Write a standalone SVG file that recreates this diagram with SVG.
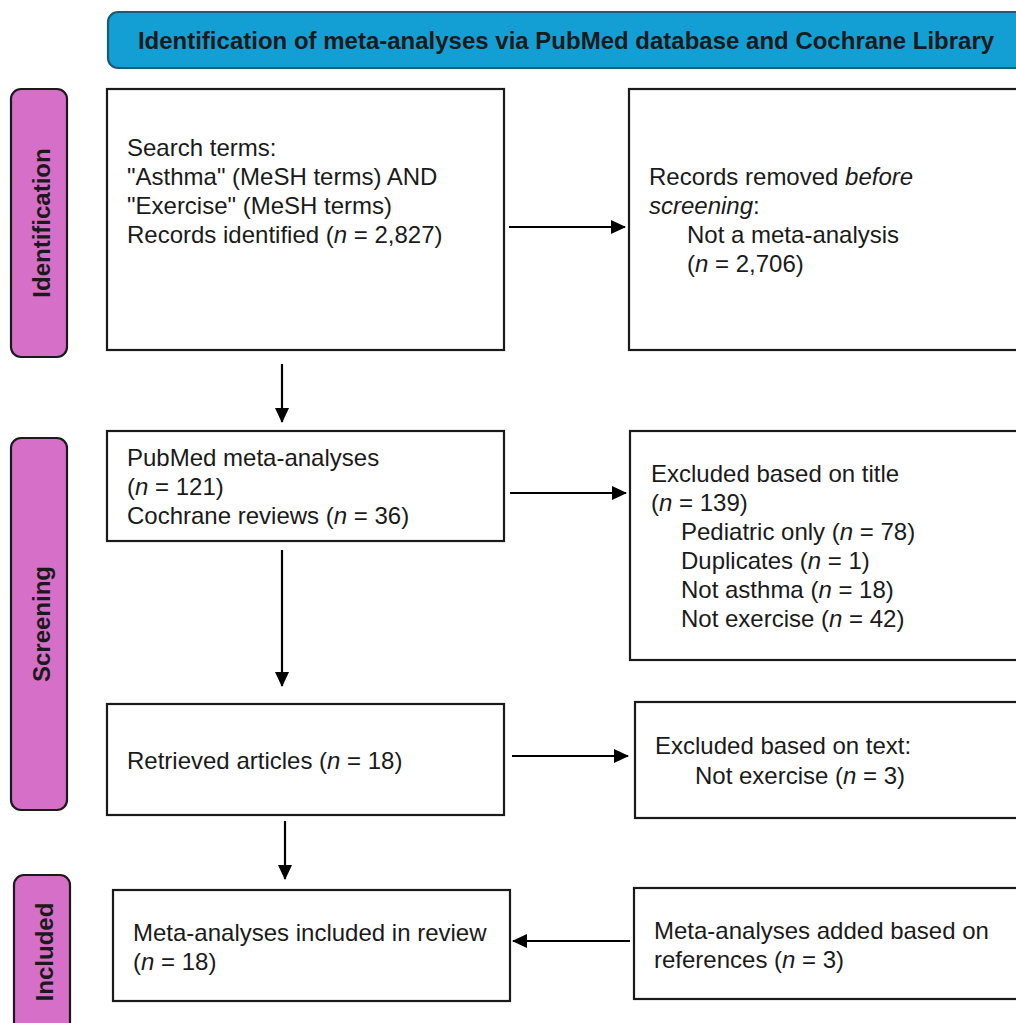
<svg xmlns="http://www.w3.org/2000/svg" width="1016" height="1023" viewBox="0 0 1016 1023">
<style>
.box{fill:#fff;stroke:#1a1a1a;stroke-width:2.2}
.bar{fill:#d66fc8;stroke:#1a1a1a;stroke-width:2.2}
.t{font-family:"Liberation Sans",Arial,sans-serif;font-size:24px;fill:#1a1a1a}
.b{font-family:"Liberation Sans",Arial,sans-serif;font-size:24px;font-weight:bold;fill:#1a1a1a}
.c{stroke:#000;stroke-width:2.2;fill:none;marker-end:url(#ah)}
</style>
<defs>
<marker id="ah" viewBox="0 0 15 14" refX="14" refY="7" markerWidth="15" markerHeight="14" markerUnits="userSpaceOnUse" orient="auto">
<path d="M0,0 L15,7 L0,14 Z" fill="#000"/>
</marker>
</defs>
<rect width="1016" height="1023" fill="#fff"/>
<g id="header">
<rect x="108" y="12" width="930" height="56" rx="10" fill="#139fd3" stroke="#1b5b78" stroke-width="2.2"/>
<text class="b" x="566" y="49" text-anchor="middle">Identification of meta-analyses via PubMed database and Cochrane Library</text>
</g>
<g id="bar-identification">
<rect class="bar" x="11" y="89" width="56" height="268" rx="10"/>
<text class="b" transform="translate(50,223) rotate(-90)" text-anchor="middle">Identification</text>
</g>
<g id="bar-screening">
<rect class="bar" x="11" y="438" width="56" height="372" rx="10"/>
<text class="b" transform="translate(50,624) rotate(-90)" text-anchor="middle">Screening</text>
</g>
<g id="bar-included">
<rect class="bar" x="14" y="875" width="56" height="170" rx="10"/>
<text class="b" transform="translate(53,952) rotate(-90)" text-anchor="middle">Included</text>
</g>
<g id="n1">
<rect class="box" x="107" y="89" width="397" height="261"/>
<text class="t" x="127" y="156">Search terms:</text>
<text class="t" x="127" y="185">"Asthma" (MeSH terms) AND</text>
<text class="t" x="127" y="214">"Exercise" (MeSH terms)</text>
<text class="t" x="127" y="243">Records identified (<tspan font-style="italic">n</tspan> = 2,827)</text>
</g>
<g id="n2">
<rect class="box" x="629" y="89" width="410" height="261"/>
<text class="t" x="649" y="185">Records removed <tspan font-style="italic">before</tspan></text>
<text class="t" x="649" y="214"><tspan font-style="italic">screening</tspan>:</text>
<text class="t" x="687" y="243">Not a meta-analysis</text>
<text class="t" x="687" y="272">(<tspan font-style="italic">n</tspan> = 2,706)</text>
</g>
<g id="n3">
<rect class="box" x="107" y="431" width="397" height="110"/>
<text class="t" x="127" y="466">PubMed meta-analyses</text>
<text class="t" x="127" y="495">(<tspan font-style="italic">n</tspan> = 121)</text>
<text class="t" x="127" y="524">Cochrane reviews (<tspan font-style="italic">n</tspan> = 36)</text>
</g>
<g id="n4">
<rect class="box" x="630" y="431" width="410" height="229"/>
<text class="t" x="651" y="482">Excluded based on title</text>
<text class="t" x="651" y="511">(<tspan font-style="italic">n</tspan> = 139)</text>
<text class="t" x="681" y="540">Pediatric only (<tspan font-style="italic">n</tspan> = 78)</text>
<text class="t" x="681" y="569">Duplicates (<tspan font-style="italic">n</tspan> = 1)</text>
<text class="t" x="681" y="598">Not asthma (<tspan font-style="italic">n</tspan> = 18)</text>
<text class="t" x="681" y="627">Not exercise (<tspan font-style="italic">n</tspan> = 42)</text>
</g>
<g id="n5">
<rect class="box" x="107" y="704" width="397" height="111"/>
<text class="t" x="127" y="769">Retrieved articles (<tspan font-style="italic">n</tspan> = 18)</text>
</g>
<g id="n6">
<rect class="box" x="635" y="702" width="405" height="116"/>
<text class="t" x="655" y="754">Excluded based on text:</text>
<text class="t" x="695" y="784">Not exercise (<tspan font-style="italic">n</tspan> = 3)</text>
</g>
<g id="n7">
<rect class="box" x="113" y="890" width="397" height="111"/>
<text class="t" x="133" y="941">Meta-analyses included in review</text>
<text class="t" x="133" y="970">(<tspan font-style="italic">n</tspan> = 18)</text>
</g>
<g id="n8">
<rect class="box" x="634" y="888" width="406" height="111"/>
<text class="t" x="654" y="939">Meta-analyses added based on</text>
<text class="t" x="654" y="968">references (<tspan font-style="italic">n</tspan> = 3)</text>
</g>
<g id="connectors">
<line class="c" x1="509" y1="227" x2="625" y2="227"/>
<line class="c" x1="282" y1="364" x2="282" y2="422"/>
<line class="c" x1="510" y1="493" x2="626" y2="493"/>
<line class="c" x1="282" y1="550" x2="282" y2="686"/>
<line class="c" x1="512" y1="756" x2="628" y2="756"/>
<line class="c" x1="285" y1="821" x2="285" y2="879"/>
<line class="c" x1="630" y1="941" x2="513" y2="941"/>
</g>
</svg>
